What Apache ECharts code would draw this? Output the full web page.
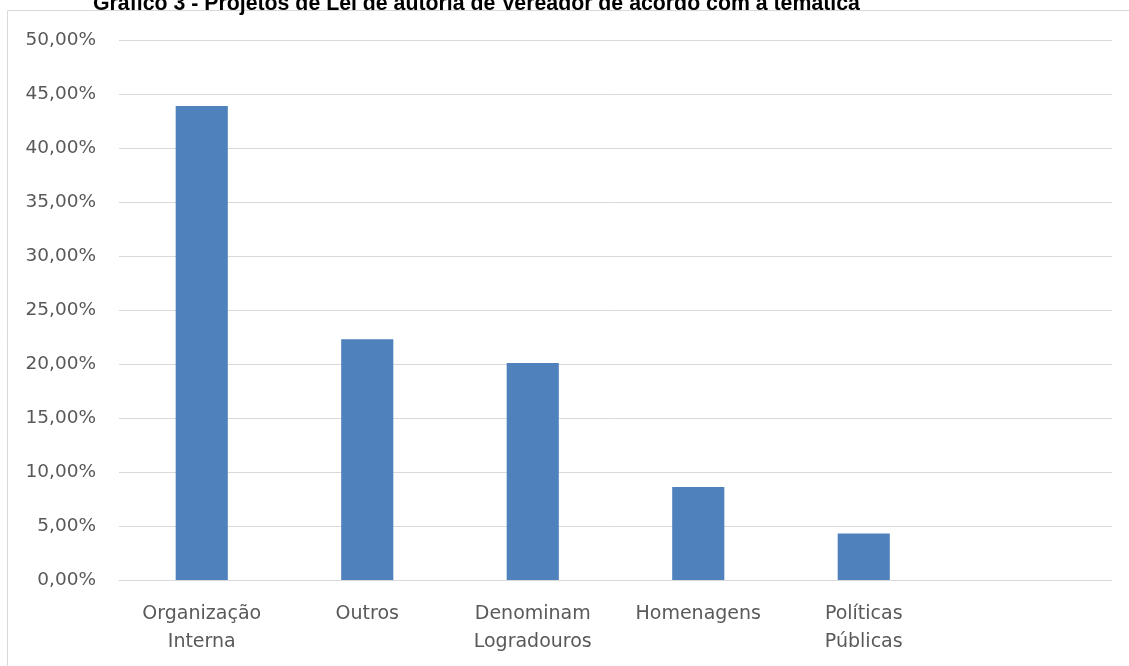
<!DOCTYPE html>
<html>
<head>
<meta charset="utf-8">
<script src="https://cdn.jsdelivr.net/npm/echarts@6/dist/echarts.min.js"></script>
<style>
html,body{margin:0;padding:0;background:#fff;}
#chart{width:1129px;height:666px;}
</style>
</head>
<body>
<div id="chart"></div>
<script>
var titleText = 'Gráfico 3 - Projetos de Lei de autoria de Vereador de acordo com a temática';
var categories = ['Organização\nInterna', 'Outros', 'Denominam\nLogradouros', 'Homenagens', 'Políticas\nPúblicas', ''];
var values = [43.9, 22.3, 20.1, 8.6, 4.3, null];
var yMin = 0, yMax = 50, yStep = 5;

var chart = echarts.init(document.getElementById('chart'), null, {renderer: 'canvas'});
chart.setOption({
  backgroundColor: '#ffffff',
  animation: false,
  title: {
    text: titleText,
    left: 88,
    top: -11,
    textStyle: {fontFamily: 'Liberation Sans', fontWeight: 'bold', fontSize: 21.3, color: '#000000'}
  },
  graphic: [{
    type: 'rect',
    shape: {x: 7.5, y: 10.5, width: 1130, height: 670},
    style: {fill: 'none', stroke: '#d9d9d9', lineWidth: 1},
    silent: true
  }],
  grid: {left: 119, right: 17, top: 40, bottom: 86},
  xAxis: {
    type: 'category',
    data: categories,
    axisTick: {show: false},
    axisLine: {lineStyle: {color: '#d9d9d9', width: 1}},
    axisLabel: {
      color: '#595959', fontFamily: 'DejaVu Sans', fontSize: 19, lineHeight: 28,
      margin: 20, interval: 0
    }
  },
  yAxis: {
    type: 'value',
    min: yMin, max: yMax, interval: yStep,
    axisLine: {show: false},
    axisTick: {show: false},
    splitLine: {lineStyle: {color: '#d9d9d9', width: 1}},
    axisLabel: {
      color: '#595959', fontFamily: 'DejaVu Sans', fontSize: 18.5, margin: 23,
      formatter: function (v) { return v.toFixed(2).replace('.', ',') + '%'; }
    }
  },
  series: [{
    type: 'bar',
    data: values,
    barWidth: '31.5%',
    itemStyle: {color: '#4f81bd'}
  }]
});
</script>
</body>
</html>
